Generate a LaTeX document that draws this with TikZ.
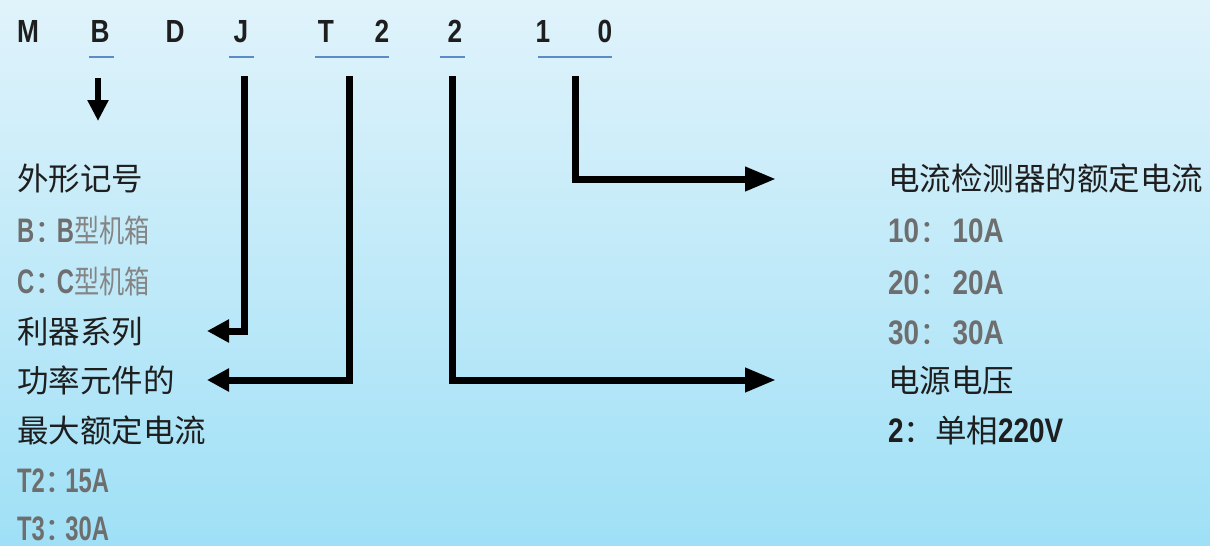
\documentclass[tikz,border=0pt]{standalone}
\usepackage{fontspec}
\usetikzlibrary{arrows.meta}
\setmainfont{Liberation Sans}
\newfontfamily\cjk{Noto Sans CJK SC}
\newfontfamily\cjkn[FakeStretch=0.8]{Noto Sans CJK SC}
\newfontfamily\condA[FakeStretch=0.82]{Liberation Sans}
\newfontfamily\condB[FakeStretch=0.7]{Liberation Sans}
\definecolor{bgtop}{HTML}{E0F3FB}
\definecolor{bgbot}{HTML}{9FE0F6}
\definecolor{ublue}{HTML}{5B8CC8}
\definecolor{tgray}{HTML}{6E6E6E}
\definecolor{cgray}{HTML}{858585}
\definecolor{ink}{HTML}{1E1E1E}
\newcommand\cjkfs{\fontsize{31.5}{32}\selectfont}
\newcommand\latfs{\fontsize{34}{34}\selectfont}
\begin{document}
\begin{tikzpicture}[x=1pt,y=-1pt,
  toplet/.style={anchor=base, inner sep=0pt, text=ink, font=\condA\bfseries\fontsize{32}{32}\selectfont},
  row/.style={anchor=base west, inner sep=0pt, text=ink, font=\cjkfs},
  grayrow/.style={row, text=tgray},
  uline/.style={ublue, line width=2pt},
  conn/.style={line width=7pt, line join=miter},
  tipS/.style={-{Triangle[length=22pt,width=22pt]}},
  tipL/.style={-{Triangle[length=31pt,width=23pt]}}]
\shade[top color=bgtop, bottom color=bgbot] (0,0) rectangle (1210,546);
\useasboundingbox (0,0) rectangle (1210,546);

% top code letters
\node[toplet] (cM)  at (28,42)  {M};
\node[toplet] (cB)  at (100,42) {B};
\node[toplet] (cD)  at (175,42) {D};
\node[toplet] (cJ)  at (241,42) {J};
\node[toplet] (cT)  at (326,42) {T};
\node[toplet] (c2a) at (382,42) {2};
\node[toplet] (c2b) at (455,42) {2};
\node[toplet] (c1)  at (543,42) {1};
\node[toplet] (c0)  at (605,42) {0};

% underlines
\draw[uline] (89,57) -- (114,57);
\draw[uline] (229,57) -- (254,57);
\draw[uline] (315,57) -- (389,57);
\draw[uline] (440,57) -- (465,57);
\draw[uline] (538,57) -- (612,57);

% left column
\node[row] (l1) at (17,190) {\cjk 外形记号};
\node[grayrow] (l2) at (17,242) {{\condB\bfseries\latfs B}{\cjk ：}\kern-9pt{\condB\bfseries\latfs B}{\cjkn\color{cgray}型机箱}};
\node[grayrow] (l3) at (17,293) {{\condB\bfseries\latfs C}{\cjk ：}\kern-9pt{\condB\bfseries\latfs C}{\cjkn\color{cgray}型机箱}};
\node[row] (l4) at (17,343) {\cjk 利器系列};
\node[row] (l5) at (17,392) {\cjk 功率元件的};
\node[row] (l6) at (17,442) {\cjk 最大额定电流};
\node[grayrow] (l7) at (17,492) {{\condB\bfseries\latfs T2}{\cjk ：}\kern-11pt{\condB\bfseries\latfs 15A}};
\node[grayrow] (l8) at (17,540) {{\condB\bfseries\latfs T3}{\cjk ：}\kern-11pt{\condB\bfseries\latfs 30A}};

% right column
\node[row] (r1) at (888,190) {\cjk 电流检测器的额定电流};
\node[grayrow] (r2) at (888,242) {{\condA\bfseries\latfs 10}{\cjk ：}\kern2pt{\condA\bfseries\latfs 10A}};
\node[grayrow] (r3) at (888,294) {{\condA\bfseries\latfs 20}{\cjk ：}\kern2pt{\condA\bfseries\latfs 20A}};
\node[grayrow] (r4) at (888,344) {{\condA\bfseries\latfs 30}{\cjk ：}\kern2pt{\condA\bfseries\latfs 30A}};
\node[row] (r5) at (888,392) {\cjk 电源电压};
\node[row] (r6) at (888,442) {{\condA\bfseries\latfs 2}{\cjk ：单相}{\condA\bfseries\latfs 220V}};

% connector end points
\coordinate (sB) at (98,78);
\coordinate (eB) at (98,121);
\coordinate (sJ) at (244,76);
\coordinate (eJ) at (207,331);
\coordinate (sT) at (349,76);
\coordinate (eT) at (207,380);
\coordinate (s2) at (452,76);
\coordinate (e2) at (776,380);
\coordinate (s10) at (575,76);
\coordinate (e10) at (776,179);

% connectors
\draw[line width=6pt, -{Triangle[length=21pt,width=20pt]}] (sB) -- (eB);
\draw[conn, tipS] (sJ) |- (eJ);
\draw[conn, tipS] (sT) |- (eT);
\draw[conn, tipL] (s2) |- (e2);
\draw[conn, tipL] (s10) |- (e10);
\end{tikzpicture}
\end{document}
